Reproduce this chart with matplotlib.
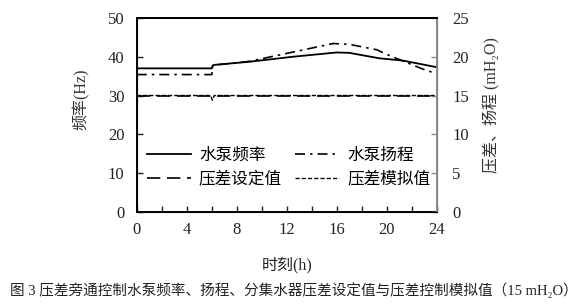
import matplotlib
matplotlib.use("Agg")
import matplotlib.pyplot as plt
import matplotlib.ticker as mticker

plt.rcParams["font.family"] = ["Liberation Serif", "Noto Sans CJK SC", "DejaVu Sans"]

# pump frequency (Hz, left axis)
freq_h = [0, 6, 6.05, 6.2, 9, 12.5, 16, 17, 19.4, 21.3, 24]
freq_v = [37.0, 37.0, 37.6, 37.9, 38.7, 40.0, 41.1, 41.0, 39.6, 39.0, 37.3]

# pump head (mH2O, right axis)
head_h = [0, 6, 6.1, 9, 12.5, 15.7, 17, 19.2, 20, 22.9, 24]
head_v = [17.7, 17.7, 18.9, 19.4, 20.6, 21.7, 21.6, 20.9, 20.3, 18.4, 17.8]

# pressure difference set value / simulated value (mH2O, right axis)
dp_set_h = [0, 24]
dp_set_v = [15.0, 15.0]
dp_sim_h = [0, 5.9, 6.05, 6.2, 24]
dp_sim_v = [15.0, 15.0, 14.4, 15.0, 15.0]

fig = plt.figure(figsize=(5.87, 3.04), dpi=100)
ax = fig.add_axes([0.233, 0.303, 0.511, 0.638])
ax2 = ax.twinx()

l1, = ax.plot(freq_h, freq_v, color="black", lw=1.3, label="水泵频率")
l2, = ax2.plot(head_h, head_v, color="black", lw=1.2, dashes=(6, 3, 1.5, 3), label="水泵扬程")
l3, = ax2.plot(dp_set_h, dp_set_v, color="black", lw=1.2, dashes=(8, 4), label="压差设定值")
l4, = ax2.plot(dp_sim_h, dp_sim_v, color="black", lw=1.0, dashes=(3, 1.5), label="压差模拟值")

ax.set_xlim(0, 24)
ax.set_ylim(0, 50)
ax2.set_ylim(0, 25)
ax.xaxis.set_major_locator(mticker.MultipleLocator(4))
ax.xaxis.set_minor_locator(mticker.MultipleLocator(2))
ax.yaxis.set_major_locator(mticker.MultipleLocator(10))
ax2.yaxis.set_major_locator(mticker.MultipleLocator(5))

ax.tick_params(axis="x", which="both", direction="in", length=4, width=1, pad=7,
               labelsize=12, colors="#222222")
ax.tick_params(axis="y", direction="in", length=4, width=1, pad=9,
               labelsize=12, colors="#222222")
ax2.tick_params(axis="y", direction="in", length=4, width=1, pad=11,
                labelsize=12, colors="#222222", color="#888888")

for s in ["left", "bottom", "top"]:
    ax.spines[s].set_linewidth(1.4)
    ax.spines[s].set_color("black")
ax2.spines["right"].set_color("#888888")
ax2.spines["right"].set_linewidth(1.4)
ax2.spines["top"].set_linewidth(1.4)

ax.set_xlabel("时刻(h)", fontsize=11.5, color="#222222")
ax.set_ylabel("频率(Hz)", fontsize=11.5, color="#333333")
ax.yaxis.set_label_coords(-0.155, 0.58)
ax2.set_ylabel("压差、扬程 (mH₂O)", fontsize=11.5, color="#333333")
ax2.yaxis.set_label_coords(1.155, 0.55)
ax.xaxis.set_label_coords(0.5, -0.23)

# row-wise order for a two-column legend
ax.legend(handles=[l1, l3, l2, l4], ncol=2, frameon=False, loc="upper left",
          bbox_to_anchor=(0.035, 0.33), borderaxespad=0, borderpad=0,
          fontsize=12, handlelength=2.6, handletextpad=0.5,
          columnspacing=0.8, labelspacing=0.45)

fig.text(0.5, 1 - 290 / 304,
         "图 3 压差旁通控制水泵频率、扬程、分集水器压差设定值与压差控制模拟值（15 mH₂O）",
         ha="center", va="center", fontsize=10.5, color="#222222")

fig.savefig("out.png", dpi=100)
